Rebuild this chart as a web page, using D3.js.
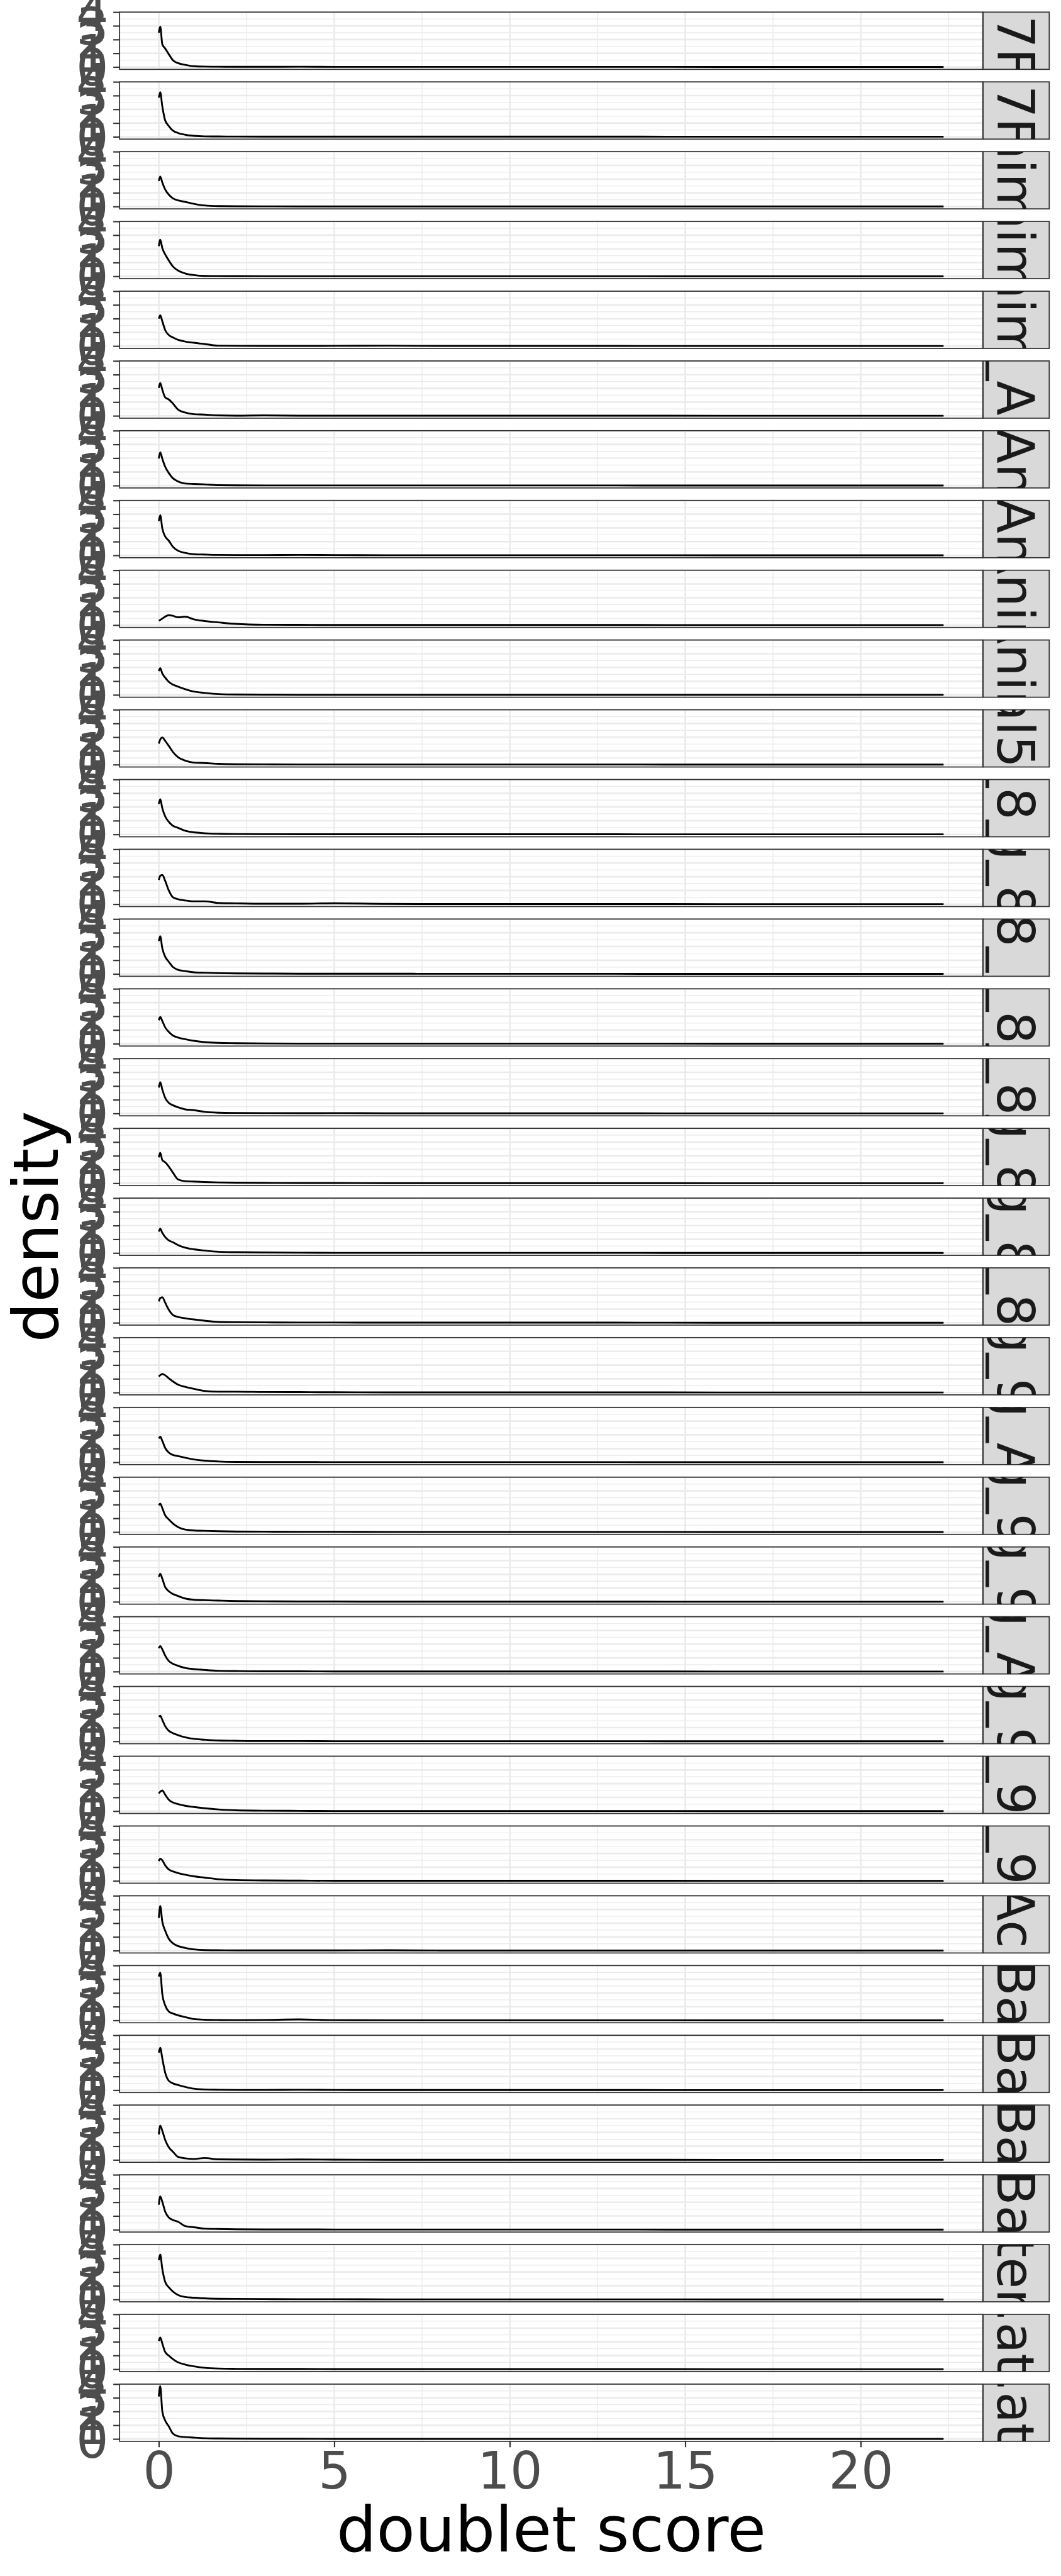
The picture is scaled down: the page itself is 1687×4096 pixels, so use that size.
<!DOCTYPE html>
<html>
<head>
<meta charset="utf-8">
<script src="https://cdn.jsdelivr.net/npm/d3@7"></script>
<style>
html, body { margin: 0; padding: 0; background: #ffffff; }
svg { display: block; }
</style>
</head>
<body>
<script>
// ---------------- data ----------------
const scoreGrid = [0, 0.04, 0.1, 0.18, 0.28, 0.4, 0.55, 0.75, 1.0, 1.3, 1.7, 2.2, 3.0, 4.0, 5.0, 6.5, 8, 10, 13, 16, 19, 22.36];

const panelLabels = [
  "M7F1", "M7F2", "1_Animal_1", "2_Animal_2", "3_Animal_3", "Day1_Animal", "PC1 Animal", "PC2 Animal",
  "1_Animal", "2_Animal", "Animal5_Lung", "Lung_8_Day1", "Lung_8_M1", "Lung_8_7_Day", "Lung_8_D12",
  "Lung_8_Day", "Lung_8_M2", "Lung_8_S1", "Lung_8_E12", "Lung_9_B1", "Lung_A1_M", "Lung_9_M1",
  "Lung_9_AB", "Lung_A2_M", "Lung_9_B2", "Lung_9_E12", "Lung_9_E13", "Acl", "S_Ba_1", "S_Ba_2",
  "S_Ba_3", "S_Ba_4", "Water_St", "Ctrl.at_D1", "Ctrl.at_D2"
];

const density01 = [2.5, 2.95, 1.65, 1.35, 0.95, 0.5, 0.28, 0.16, 0.06, 0.03, 0.02, 0.015, 0.015, 0.02, 0.01, 0.01, 0.01, 0.01, 0.01, 0.005, 0.005, 0.005];
const density02 = [2.85, 3.24, 2.2, 1.2, 0.8, 0.45, 0.27, 0.15, 0.07, 0.03, 0.02, 0.015, 0.01, 0.01, 0.01, 0.01, 0.01, 0.01, 0.01, 0.005, 0.005, 0.005];
const density03 = [1.86, 2.19, 1.75, 1.25, 0.88, 0.6, 0.45, 0.34, 0.2, 0.08, 0.03, 0.02, 0.015, 0.01, 0.01, 0.01, 0.01, 0.01, 0.01, 0.005, 0.005, 0.005];
const density04 = [2.2, 2.66, 2.05, 1.6, 1.17, 0.72, 0.42, 0.21, 0.09, 0.03, 0.02, 0.015, 0.01, 0.01, 0.01, 0.01, 0.01, 0.01, 0.01, 0.005, 0.005, 0.005];
const density05 = [2.0, 2.25, 1.8, 1.17, 0.81, 0.63, 0.45, 0.33, 0.24, 0.15, 0.03, 0.02, 0.015, 0.01, 0.02, 0.03, 0.01, 0.01, 0.01, 0.005, 0.005, 0.005];
const density06 = [2.04, 2.4, 1.9, 1.35, 1.2, 0.9, 0.45, 0.24, 0.12, 0.09, 0.03, 0.01, 0.03, 0.01, 0.01, 0.01, 0.01, 0.01, 0.01, 0.005, 0.005, 0.005];
const density07 = [1.98, 2.43, 1.95, 1.38, 0.93, 0.54, 0.3, 0.15, 0.12, 0.09, 0.03, 0.02, 0.01, 0.01, 0.01, 0.01, 0.01, 0.01, 0.01, 0.005, 0.005, 0.005];
const density08 = [2.5, 2.93, 1.95, 1.38, 1.08, 0.63, 0.33, 0.18, 0.09, 0.06, 0.03, 0.02, 0.02, 0.03, 0.02, 0.01, 0.01, 0.01, 0.01, 0.005, 0.005, 0.005];
const density09 = [0.33, 0.38, 0.48, 0.62, 0.72, 0.68, 0.57, 0.62, 0.42, 0.3, 0.2, 0.09, 0.03, 0.02, 0.01, 0.01, 0.01, 0.01, 0.01, 0.005, 0.005, 0.005];
const density10 = [1.74, 1.95, 1.56, 1.26, 0.96, 0.75, 0.6, 0.42, 0.24, 0.15, 0.06, 0.03, 0.02, 0.01, 0.01, 0.01, 0.01, 0.01, 0.01, 0.005, 0.005, 0.005];
const density11 = [1.53, 1.83, 1.98, 1.74, 1.38, 0.93, 0.54, 0.3, 0.15, 0.12, 0.06, 0.03, 0.02, 0.01, 0.01, 0.01, 0.01, 0.01, 0.01, 0.005, 0.005, 0.005];
const density12 = [2.22, 2.57, 1.9, 1.32, 0.93, 0.63, 0.48, 0.27, 0.15, 0.09, 0.05, 0.03, 0.02, 0.01, 0.01, 0.01, 0.01, 0.01, 0.01, 0.005, 0.005, 0.005];
const density13 = [1.77, 2.07, 2.13, 1.71, 1.02, 0.51, 0.36, 0.27, 0.21, 0.21, 0.09, 0.06, 0.03, 0.03, 0.07, 0.02, 0.01, 0.01, 0.01, 0.005, 0.005, 0.005];
const density14 = [2.4, 2.75, 1.86, 1.26, 0.9, 0.51, 0.3, 0.21, 0.12, 0.09, 0.06, 0.04, 0.03, 0.02, 0.02, 0.02, 0.01, 0.01, 0.01, 0.005, 0.005, 0.005];
const density15 = [1.71, 1.95, 1.65, 1.2, 0.87, 0.6, 0.45, 0.33, 0.21, 0.12, 0.06, 0.04, 0.02, 0.01, 0.01, 0.01, 0.01, 0.01, 0.01, 0.005, 0.005, 0.005];
const density16 = [1.89, 2.28, 1.74, 1.14, 0.78, 0.6, 0.45, 0.3, 0.24, 0.12, 0.06, 0.04, 0.03, 0.02, 0.03, 0.01, 0.01, 0.01, 0.01, 0.005, 0.005, 0.005];
const density17 = [1.89, 2.22, 1.68, 1.53, 1.23, 0.78, 0.27, 0.15, 0.12, 0.09, 0.06, 0.04, 0.03, 0.02, 0.02, 0.01, 0.01, 0.01, 0.01, 0.005, 0.005, 0.005];
const density18 = [1.56, 1.77, 1.47, 1.17, 0.93, 0.78, 0.57, 0.39, 0.27, 0.18, 0.09, 0.06, 0.04, 0.02, 0.01, 0.01, 0.01, 0.01, 0.01, 0.005, 0.005, 0.005];
const density19 = [1.56, 1.8, 1.86, 1.47, 0.96, 0.57, 0.42, 0.33, 0.24, 0.15, 0.06, 0.04, 0.03, 0.02, 0.02, 0.01, 0.01, 0.01, 0.01, 0.005, 0.005, 0.005];
const density20 = [1.17, 1.26, 1.35, 1.26, 1.05, 0.81, 0.57, 0.42, 0.27, 0.12, 0.06, 0.06, 0.04, 0.03, 0.02, 0.01, 0.01, 0.01, 0.01, 0.005, 0.005, 0.005];
const density21 = [1.74, 1.86, 1.56, 1.05, 0.72, 0.54, 0.45, 0.33, 0.21, 0.12, 0.06, 0.03, 0.02, 0.02, 0.01, 0.01, 0.01, 0.01, 0.01, 0.005, 0.005, 0.005];
const density22 = [1.95, 2.07, 1.74, 1.23, 0.93, 0.63, 0.36, 0.18, 0.12, 0.09, 0.06, 0.04, 0.03, 0.02, 0.02, 0.01, 0.01, 0.01, 0.01, 0.005, 0.005, 0.005];
const density23 = [1.83, 2.04, 1.68, 1.08, 0.78, 0.57, 0.42, 0.24, 0.15, 0.12, 0.09, 0.06, 0.04, 0.02, 0.02, 0.01, 0.01, 0.01, 0.01, 0.005, 0.005, 0.005];
const density24 = [1.71, 1.86, 1.62, 1.17, 0.78, 0.57, 0.42, 0.27, 0.18, 0.12, 0.06, 0.04, 0.02, 0.02, 0.01, 0.01, 0.01, 0.01, 0.01, 0.005, 0.005, 0.005];
const density25 = [1.8, 1.86, 1.56, 1.11, 0.78, 0.6, 0.45, 0.3, 0.18, 0.12, 0.06, 0.04, 0.02, 0.02, 0.01, 0.01, 0.01, 0.01, 0.01, 0.005, 0.005, 0.005];
const density26 = [1.29, 1.41, 1.5, 1.2, 0.84, 0.63, 0.51, 0.39, 0.3, 0.21, 0.12, 0.06, 0.03, 0.02, 0.01, 0.01, 0.01, 0.01, 0.01, 0.005, 0.005, 0.005];
const density27 = [1.44, 1.62, 1.5, 1.14, 0.84, 0.69, 0.57, 0.45, 0.33, 0.24, 0.12, 0.06, 0.03, 0.02, 0.01, 0.01, 0.01, 0.01, 0.01, 0.005, 0.005, 0.005];
const density28 = [2.38, 3.25, 2.1, 1.46, 0.88, 0.54, 0.33, 0.2, 0.09, 0.04, 0.03, 0.02, 0.02, 0.02, 0.02, 0.03, 0.01, 0.01, 0.01, 0.005, 0.005, 0.005];
const density29 = [3.2, 3.48, 1.9, 1.1, 0.66, 0.5, 0.37, 0.24, 0.1, 0.05, 0.03, 0.02, 0.03, 0.07, 0.02, 0.01, 0.01, 0.01, 0.01, 0.005, 0.005, 0.005];
const density30 = [2.74, 3.08, 2.3, 1.29, 0.69, 0.5, 0.37, 0.24, 0.11, 0.05, 0.03, 0.02, 0.02, 0.03, 0.02, 0.01, 0.01, 0.01, 0.01, 0.005, 0.005, 0.005];
const density31 = [1.86, 2.5, 2.12, 1.46, 0.94, 0.6, 0.22, 0.12, 0.07, 0.14, 0.04, 0.03, 0.02, 0.03, 0.02, 0.01, 0.01, 0.01, 0.01, 0.005, 0.005, 0.005];
const density32 = [1.82, 2.42, 2.03, 1.32, 0.9, 0.71, 0.58, 0.26, 0.18, 0.08, 0.05, 0.03, 0.02, 0.02, 0.01, 0.01, 0.01, 0.01, 0.01, 0.005, 0.005, 0.005];
const density33 = [2.87, 3.27, 2.21, 1.29, 0.9, 0.58, 0.32, 0.18, 0.13, 0.08, 0.05, 0.04, 0.03, 0.02, 0.02, 0.01, 0.01, 0.01, 0.01, 0.005, 0.005, 0.005];
const density34 = [2.06, 2.32, 1.87, 1.26, 1.0, 0.74, 0.5, 0.34, 0.21, 0.11, 0.05, 0.03, 0.02, 0.02, 0.01, 0.01, 0.01, 0.01, 0.01, 0.005, 0.005, 0.005];
const density35 = [3.1, 3.85, 2.0, 1.35, 0.94, 0.4, 0.2, 0.14, 0.1, 0.06, 0.04, 0.03, 0.02, 0.02, 0.01, 0.01, 0.01, 0.01, 0.01, 0.005, 0.005, 0.005];

const densities = [
  density01, density02, density03, density04, density05, density06, density07, density08, density09, density10,
  density11, density12, density13, density14, density15, density16, density17, density18, density19, density20,
  density21, density22, density23, density24, density25, density26, density27, density28, density29, density30,
  density31, density32, density33, density34, density35
];

const xTicks = [0, 5, 10, 15, 20];
const xMinorTicks = [2.5, 7.5, 12.5, 17.5, 22.5];
const yTicks = [0, 1, 2, 3, 4];
const yMinorTicks = [0.5, 1.5, 2.5, 3.5];
const xTitle = "doublet score";
const yTitle = "density";

// ---------------- layout (reference pixel space) ----------------
const W = 2100, H = 5100;
const FONT = "DejaVu Sans";
const panelLeft = 236.5, panelRight = 1945.5;
const panelTop0 = 24, panelPitch = 138.12, panelH = 113.3;
const stripW = 131;
const tickFont = 101, titleFont = 125;

const svg = d3.select("body").append("svg")
  .attr("width", 1687).attr("height", 4096)
  .attr("viewBox", `0 0 ${W} ${H}`);

svg.append("rect").attr("width", W).attr("height", H).attr("fill", "#ffffff");

const defs = svg.append("defs");
defs.append("clipPath").attr("id", "stripClip")
  .append("rect").attr("x", 0).attr("y", 0).attr("width", stripW).attr("height", panelH);

const xExt = d3.extent(scoreGrid);
const xPad = 0.05 * (xExt[1] - xExt[0]);
const x = d3.scaleLinear().domain([xExt[0] - xPad, xExt[1] + xPad]).range([panelLeft, panelRight]);
const y = d3.scaleLinear().domain([-0.17, 4.0]).range([panelH, 0]);

const line = d3.line()
  .x(d => x(d[0]))
  .y(d => y(d[1]))
  .curve(d3.curveMonotoneX);

densities.forEach((vals, i) => {
  const top = panelTop0 + panelPitch * i;
  const g = svg.append("g").attr("transform", `translate(0,${top})`);

  // panel background
  g.append("rect").attr("x", panelLeft).attr("y", 0)
    .attr("width", panelRight - panelLeft).attr("height", panelH).attr("fill", "#ffffff");

  // minor grid
  g.selectAll(".hmin").data(yMinorTicks).enter().append("line")
    .attr("x1", panelLeft).attr("x2", panelRight)
    .attr("y1", d => y(d)).attr("y2", d => y(d))
    .attr("stroke", "#ebebeb").attr("stroke-width", 1.7);
  g.selectAll(".vmin").data(xMinorTicks.filter(v => x(v) < panelRight)).enter().append("line")
    .attr("x1", d => x(d)).attr("x2", d => x(d))
    .attr("y1", 0).attr("y2", panelH)
    .attr("stroke", "#ebebeb").attr("stroke-width", 1.7);
  // major grid
  g.selectAll(".hmaj").data(yTicks).enter().append("line")
    .attr("x1", panelLeft).attr("x2", panelRight)
    .attr("y1", d => y(d)).attr("y2", d => y(d))
    .attr("stroke", "#ebebeb").attr("stroke-width", 3.3);
  g.selectAll(".vmaj").data(xTicks).enter().append("line")
    .attr("x1", d => x(d)).attr("x2", d => x(d))
    .attr("y1", 0).attr("y2", panelH)
    .attr("stroke", "#ebebeb").attr("stroke-width", 3.3);

  // density curve
  const pts = scoreGrid.map((s, j) => [s, vals[j]]);
  g.append("path").datum(pts)
    .attr("d", line)
    .attr("fill", "none")
    .attr("stroke", "#000000")
    .attr("stroke-width", 3.6)
    .attr("stroke-linejoin", "round")
    .attr("stroke-linecap", "butt");

  // panel border
  g.append("rect").attr("x", panelLeft).attr("y", 0)
    .attr("width", panelRight - panelLeft).attr("height", panelH)
    .attr("fill", "none").attr("stroke", "#333333").attr("stroke-width", 2.2);

  // y axis
  const yAxis = d3.axisLeft(y).tickValues(yTicks).tickSize(12.5).tickPadding(9.5).tickFormat(d3.format("d"));
  const ya = g.append("g").attr("transform", `translate(${panelLeft},0)`).call(yAxis);
  ya.attr("font-family", FONT).attr("font-size", tickFont).attr("color", "#4d4d4d");
  ya.select(".domain").remove();
  ya.selectAll(".tick line").attr("stroke", "#333333").attr("stroke-width", 2.7);
  ya.selectAll(".tick text").attr("fill", "#4d4d4d").attr("dy", "0.36em");

  // strip
  const sg = g.append("g").attr("transform", `translate(${panelRight + 0.5},0)`);
  sg.append("rect").attr("x", 0).attr("y", 0).attr("width", stripW).attr("height", panelH)
    .attr("fill", "#d9d9d9").attr("stroke", "#333333").attr("stroke-width", 2.2);
  sg.append("g").attr("clip-path", "url(#stripClip)")
    .append("text")
    .attr("transform", `translate(28.5,${panelH / 2}) rotate(90)`)
    .attr("text-anchor", "middle")
    .attr("font-family", FONT)
    .attr("font-size", tickFont)
    .attr("fill", "#1a1a1a")
    .text(panelLabels[i]);

  // x axis on the last panel
  if (i === densities.length - 1) {
    const xAxis = d3.axisBottom(x).tickValues(xTicks).tickSize(11.7).tickFormat(d3.format("d"));
    const xa = g.append("g").attr("transform", `translate(0,${panelH})`).call(xAxis);
    xa.attr("font-family", FONT).attr("font-size", tickFont).attr("color", "#4d4d4d");
    xa.select(".domain").remove();
    xa.selectAll(".tick line").attr("stroke", "#333333").attr("stroke-width", 2.7);
    xa.selectAll(".tick text").attr("fill", "#4d4d4d").attr("y", 93.7).attr("dy", null);
  }
});

// axis titles
const plotMidY = (panelTop0 + panelTop0 + panelPitch * (densities.length - 1) + panelH) / 2;
svg.append("text")
  .attr("x", (panelLeft + panelRight) / 2).attr("y", 5051.7)
  .attr("text-anchor", "middle")
  .attr("font-family", FONT).attr("font-size", titleFont).attr("fill", "#000000")
  .text(xTitle);
svg.append("text")
  .attr("transform", `translate(114,${plotMidY}) rotate(-90)`)
  .attr("text-anchor", "middle")
  .attr("font-family", FONT).attr("font-size", titleFont).attr("fill", "#000000")
  .text(yTitle);
</script>
</body>
</html>
